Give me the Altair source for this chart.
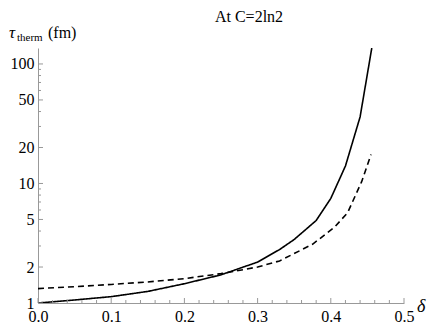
import altair as alt
import pandas as pd

# data
delta_solid = [0.0, 0.05, 0.10, 0.15, 0.20, 0.25, 0.30, 0.33, 0.35, 0.38, 0.40, 0.42, 0.44, 0.456]
tau_solid = [1.0, 1.06, 1.13, 1.25, 1.45, 1.72, 2.2, 2.8, 3.4, 4.9, 7.5, 14.0, 36.0, 136.0]

delta_dashed = [0.0, 0.05, 0.10, 0.15, 0.20, 0.25, 0.30, 0.33, 0.375, 0.405, 0.423, 0.442, 0.455]
tau_dashed = [1.32, 1.37, 1.43, 1.50, 1.60, 1.76, 2.0, 2.25, 3.1, 4.3, 5.7, 10.3, 17.5]

y_major = [1, 2, 5, 10, 20, 50, 100]
y_minor = [3, 4, 6, 7, 8, 9, 30, 40, 60, 70, 80, 90]
x_major = [0.0, 0.1, 0.2, 0.3, 0.4, 0.5]
x_minor = [round(0.02 * i, 2) for i in range(26) if i % 5 != 0]

W, H = 366, 255
FONT = "Liberation Serif"

df = pd.concat([
    pd.DataFrame({"delta": delta_solid, "tau": tau_solid, "s": "solid"}),
    pd.DataFrame({"delta": delta_dashed, "tau": tau_dashed, "s": "dashed"}),
])

xs = alt.Scale(domain=[0, 0.5], nice=False)
ys = alt.Scale(type="log", domain=[1, 136], nice=False)

lines = alt.Chart(df).mark_line(color="black", strokeWidth=1.6, clip=True).encode(
    x=alt.X("delta:Q", scale=xs,
            axis=alt.Axis(values=x_major, format=".1f", ticks=False, grid=False,
                          domainColor="#999999", labelFont=FONT, labelFontSize=16,
                          labelColor="black", labelPadding=5, labelFlush=False,
                          labelOverlap=False, title=None)),
    y=alt.Y("tau:Q", scale=ys,
            axis=alt.Axis(values=y_major, format="d", ticks=False, grid=False,
                          domainColor="#999999", labelFont=FONT, labelFontSize=16,
                          labelColor="black", labelPadding=4, labelFlush=False,
                          labelOverlap=False, title=None)),
    strokeDash=alt.StrokeDash("s:N", scale=alt.Scale(domain=["solid", "dashed"],
                                                      range=[[1, 0], [6, 4]]), legend=None),
    detail="s:N",
)

ymaj = alt.Chart(pd.DataFrame({"v": y_major})).mark_rule(color="#999999").encode(
    y=alt.Y("v:Q", scale=ys), x=alt.value(0), x2=alt.value(5))
ymin = alt.Chart(pd.DataFrame({"v": y_minor})).mark_rule(color="#999999").encode(
    y=alt.Y("v:Q", scale=ys), x=alt.value(0), x2=alt.value(3))
xmaj = alt.Chart(pd.DataFrame({"v": x_major})).mark_rule(color="#999999").encode(
    x=alt.X("v:Q", scale=xs), y=alt.value(H), y2=alt.value(H - 5))
xmin = alt.Chart(pd.DataFrame({"v": x_minor})).mark_rule(color="#999999").encode(
    x=alt.X("v:Q", scale=xs), y=alt.value(H), y2=alt.value(H - 3))

def label(txt, x, y, size, style="normal", align="left"):
    return alt.Chart(pd.DataFrame({"t": [txt]})).mark_text(
        font=FONT, fontSize=size, fontStyle=style, align=align, baseline="alphabetic",
        color="black").encode(text="t:N", x=alt.value(x), y=alt.value(y))

title = label("At  C=2ln2", 211, -26, 16, align="center")
tau = label("τ", -29, -10, 17, style="italic")
therm = label("therm", -21, -7, 11)
fm = label("(fm)", 10, -10, 16)
dlt = label("δ", 379, 264, 18, style="italic")

chart = alt.layer(lines, ymaj, ymin, xmaj, xmin, title, tau, therm, fm, dlt).properties(
    width=W, height=H,
    autosize=alt.AutoSizeParams(type="none"),
    padding={"left": 30, "top": 40, "right": 24, "bottom": 26},
).configure_view(stroke=None)

chart.save("out.html", embed_options={"renderer": "svg", "actions": False})
